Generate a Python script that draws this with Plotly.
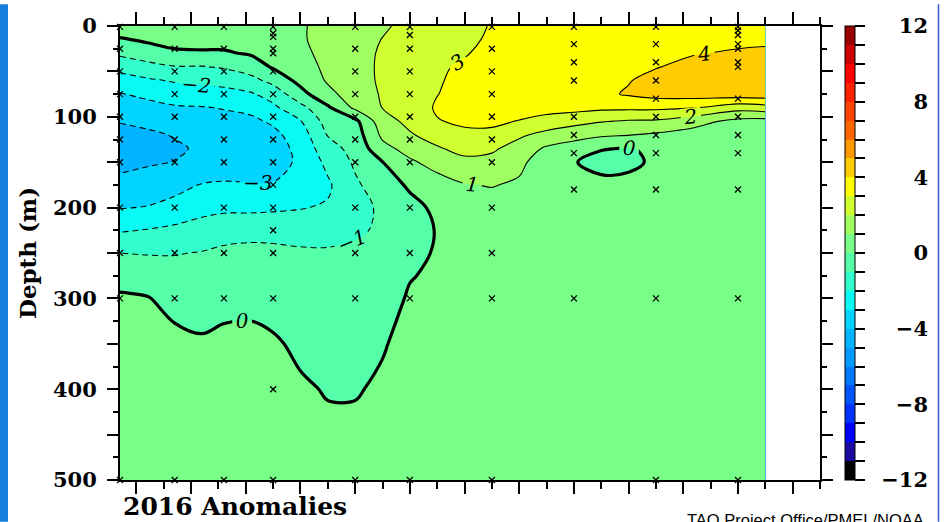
import plotly.graph_objects as go

# ---------------- data ----------------
lon = [137, 142, 147, 152, 156, 161, 165, 170, 175, 180, 185, 190,
       195, 200, 205, 210, 215, 220, 225, 230, 235, 242, 250, 255]
depth = [0, 15, 30, 45, 60, 75, 90, 105, 120, 135, 150, 175, 200,
         225, 250, 275, 300, 350, 400, 450, 500]

# temperature anomaly (deg C) profiles, one list per longitude (top -> bottom)
a137 = [0.6, -0.1, -0.8, -1.7, -2.4, -3.05, -3.5, -3.95, -4.3, -4.45, -4.25, -3.75, -3.05, -2.1, -1.0, -0.4, 0.15, 0.4, 0.4, 0.3, 0.3]
a142 = [0.5, 0.15, -0.5, -1.3, -2.15, -2.8, -3.3, -3.8, -4.15, -4.3, -4.1, -3.6, -2.95, -1.95, -1.05, -0.5, 0.05, 0.35, 0.4, 0.3, 0.3]
a147 = [0.5, 0.3, -0.15, -1.05, -1.9, -2.55, -3.1, -3.55, -3.95, -4.1, -3.98, -3.4, -2.6, -1.8, -1.05, -0.6, -0.3, 0.25, 0.3, 0.3, 0.3]
a152 = [0.5, 0.3, -0.1, -1.05, -1.75, -2.45, -3.05, -3.45, -3.75, -3.9, -3.65, -2.95, -2.3, -1.6, -0.95, -0.6, -0.35, 0.1, 0.3, 0.3, 0.3]
a156 = [0.55, 0.3, -0.1, -0.9, -1.65, -2.35, -2.95, -3.3, -3.6, -3.7, -3.5, -2.9, -2.2, -1.4, -0.8, -0.5, -0.25, 0.2, 0.3, 0.3, 0.3]
a161 = [0.6, 0.4, 0.1, -0.5, -1.3, -2.1, -2.75, -3.2, -3.45, -3.55, -3.45, -2.95, -2.2, -1.35, -0.7, -0.45, -0.2, 0.2, 0.3, 0.3, 0.3]
a165 = [0.7, 0.55, 0.35, 0.1, -0.7, -1.6, -2.2, -2.85, -3.25, -3.4, -3.35, -2.95, -2.15, -1.35, -0.75, -0.5, -0.3, 0.1, 0.25, 0.25, 0.25]
a170 = [0.9, 0.9, 0.8, 0.6, 0.3, -0.35, -1.3, -2.05, -2.5, -2.75, -2.85, -2.6, -2.05, -1.4, -0.85, -0.6, -0.45, -0.15, 0.1, 0.2, 0.25]
a175 = [1.3, 1.3, 1.25, 1.2, 1.1, 0.75, -0.15, -0.6, -0.95, -1.35, -1.75, -2.15, -1.9, -1.45, -0.85, -0.65, -0.5, -0.35, -0.05, 0.15, 0.2]
a180 = [1.65, 1.7, 1.7, 1.65, 1.6, 1.45, 1.2, -0.25, -0.5, -0.7, -0.85, -1.15, -1.3, -1.15, -0.8, -0.65, -0.55, -0.35, -0.05, 0.15, 0.2]
a185 = [1.9, 2.02, 2.1, 2.15, 2.15, 2.1, 2.02, 1.6, 1.2, 0.7, -0.02, -0.5, -0.85, -0.85, -0.7, -0.55, -0.4, -0.05, 0.1, 0.2, 0.2]
a190 = [2.2, 2.35, 2.45, 2.55, 2.6, 2.6, 2.5, 2.25, 1.9, 1.35, 0.85, 0.15, -0.3, -0.4, -0.3, -0.05, 0.1, 0.2, 0.25, 0.25, 0.25]
a195 = [2.5, 2.65, 2.8, 2.9, 2.93, 2.98, 3.1, 2.95, 2.4, 1.9, 1.35, 0.6, 0.2, 0.05, 0.1, 0.15, 0.2, 0.25, 0.25, 0.25, 0.25]
a200 = [2.75, 2.85, 2.95, 3.1, 3.2, 3.3, 3.3, 3.15, 2.8, 2.3, 1.75, 0.95, 0.5, 0.35, 0.3, 0.3, 0.35, 0.3, 0.3, 0.25, 0.25]
a205 = [3.05, 3.1, 3.2, 3.3, 3.4, 3.45, 3.4, 3.2, 2.75, 2.15, 1.7, 1.05, 0.6, 0.45, 0.4, 0.45, 0.6, 0.4, 0.3, 0.25, 0.25]
a210 = [3.2, 3.3, 3.4, 3.5, 3.6, 3.6, 3.45, 2.95, 2.15, 1.6, 1.25, 0.85, 0.6, 0.5, 0.5, 0.6, 0.75, 0.45, 0.3, 0.25, 0.25]
a215 = [3.3, 3.4, 3.5, 3.6, 3.7, 3.65, 3.4, 2.6, 1.7, 0.85, 0.4, 0.3, 0.35, 0.4, 0.45, 0.6, 0.8, 0.45, 0.3, 0.25, 0.25]
a220 = [3.4, 3.45, 3.55, 3.65, 3.75, 3.7, 3.35, 2.3, 1.4, 0.5, 0.05, 0.2, 0.35, 0.4, 0.45, 0.6, 0.85, 0.45, 0.3, 0.25, 0.25]
a225 = [3.45, 3.5, 3.6, 3.75, 3.85, 3.8, 3.2, 2.05, 1.15, 0.05, -0.3, 0.25, 0.3, 0.35, 0.4, 0.5, 0.65, 0.4, 0.3, 0.25, 0.25]
a230 = [3.5, 3.55, 3.65, 3.8, 3.95, 4.1, 3.2, 1.9, 1.02, -0.05, -0.2, 0.25, 0.3, 0.35, 0.35, 0.4, 0.45, 0.35, 0.3, 0.25, 0.25]
a235 = [3.55, 3.65, 3.8, 3.95, 4.3, 4.35, 3.2, 1.85, 0.85, 0.15, 0.15, 0.3, 0.3, 0.3, 0.3, 0.3, 0.35, 0.3, 0.3, 0.25, 0.25]
a242 = [3.6, 3.75, 3.95, 4.3, 4.55, 4.45, 3.05, 1.35, 0.6, 0.3, 0.3, 0.3, 0.3, 0.3, 0.3, 0.3, 0.3, 0.3, 0.3, 0.25, 0.25]
a250 = [3.65, 3.8, 4.1, 4.5, 4.7, 4.55, 2.4, 0.7, 0.4, 0.3, 0.3, 0.3, 0.3, 0.3, 0.3, 0.3, 0.3, 0.3, 0.3, 0.25, 0.25]
a255 = [3.65, 3.85, 4.15, 4.55, 4.75, 4.6, 2.6, 0.6, 0.35, 0.3, 0.3, 0.3, 0.3, 0.3, 0.3, 0.3, 0.3, 0.3, 0.3, 0.25, 0.25]

profiles = [a137, a142, a147, a152, a156, a161, a165, a170, a175, a180, a185, a190,
            a195, a200, a205, a210, a215, a220, a225, a230, a235, a242, a250, a255]

# buoy sensor positions (longitude, depths)
buoy_lon = [137, 147, 156, 165, 180, 190, 205, 220, 235, 250]
buoy_depths = [
    [1, 25, 50, 75, 100, 125, 150, 200, 250, 300, 500],
    [1, 25, 50, 75, 100, 125, 150, 200, 250, 300, 500],
    [1, 25, 50, 75, 100, 125, 150, 200, 250, 300, 500],
    [1, 8, 12, 25, 30, 50, 75, 100, 125, 150, 175, 200, 225, 250, 300, 400, 500],
    [1, 25, 50, 75, 100, 125, 150, 200, 250, 300, 500],
    [1, 10, 25, 50, 75, 100, 125, 150, 200, 250, 300, 500],
    [1, 25, 50, 75, 100, 125, 150, 200, 250, 300, 500],
    [1, 20, 40, 60, 100, 120, 140, 180, 300],
    [1, 20, 40, 60, 80, 100, 120, 140, 180, 300, 500],
    [1, 5, 10, 20, 25, 40, 45, 80, 100, 120, 140, 180, 300, 500],
]

# colour of each 1-degree band, from -12..-11 up to 11..12
band_colors = ["#000000", "#1A0AA0", "#0000FF", "#0033FF", "#0055FF", "#0077FF",
               "#0099FF", "#00B4FF", "#00D4FF", "#08FAF4", "#33FFCC", "#55FFAA",
               "#77FF88", "#A0FF60", "#D0FF30", "#FFFF00", "#FFCC00", "#FF9900",
               "#FF6600", "#FF4400", "#FF2200", "#FF0000", "#CC0000", "#990000"]
cbar_ticks = list(range(-12, 13))
cbar_labels = [-12, -8, -4, 0, 4, 8, 12]
depth_ticks = [0, 50, 100, 150, 200, 250, 300, 350, 400, 450, 500]
depth_text = ["0", "", "100", "", "200", "", "300", "", "400", "", "500"]
lon_ticks = list(range(140, 261, 10))

# ---------------- build ----------------
z = [[profiles[j][i] for j in range(len(lon))] for i in range(len(depth))]

n = len(band_colors)
# contour fill colormap domain spans start-0.5 .. end+0.5 (25 units)
cs_fill = []
for i, c in enumerate(band_colors):
    a = 0.0 if i == 0 else (i + 0.5) / 25.0
    b = 1.0 if i == n - 1 else (i + 1.5) / 25.0
    cs_fill += [[a, c], [b, c]]
cs_bar = []
for i, c in enumerate(band_colors):
    cs_bar += [[i / n, c], [(i + 1) / n, c]]

W, H = 946, 522
L, R, T, B = 120, 18, 22, 42
PW = W - L - R          # paper width in px
PH = H - T - B
def px_x(px):
    return (px - L) / PW
def px_y(py):
    return (H - B - py) / PH

serif = "DejaVu Serif"
labfont = dict(family="DejaVu Serif", size=20, style="italic", color="black")

fig = go.Figure()
fig.add_trace(go.Contour(
    x=lon, y=depth, z=z, colorscale=cs_fill, showscale=False,
    contours=dict(start=-12, end=12, size=1, coloring="fill", showlines=False),
    line=dict(width=0), hoverinfo="skip"))
fig.add_trace(go.Contour(
    x=lon, y=depth, z=z, showscale=False,
    contours=dict(start=-5, end=-1, size=1, coloring="none",
                  showlabels=True, labelfont=labfont, labelformat="d"),
    line=dict(color="black", width=1.1, dash="6px,4px", smoothing=1),
    hoverinfo="skip"))
fig.add_trace(go.Contour(
    x=lon, y=depth, z=z, showscale=False,
    contours=dict(start=0, end=0.5, size=1, coloring="none",
                  showlabels=True, labelfont=labfont),
    line=dict(color="black", width=3.2, smoothing=1),
    hoverinfo="skip"))
fig.add_trace(go.Contour(
    x=lon, y=depth, z=z, showscale=False,
    contours=dict(start=1, end=5, size=1, coloring="none",
                  showlabels=True, labelfont=labfont),
    line=dict(color="black", width=1.1, smoothing=1),
    hoverinfo="skip"))

bx, by = [], []
for lo, ds in zip(buoy_lon, buoy_depths):
    for d in ds:
        bx.append(lo)
        by.append(d)
fig.add_trace(go.Scatter(
    x=bx, y=by, mode="markers", cliponaxis=False, hoverinfo="skip",
    marker=dict(symbol="x-thin", size=6, line=dict(color="black", width=1.3))))

# colour bar carrier (invisible point)
fig.add_trace(go.Scatter(
    x=[300], y=[0], yaxis="y2", mode="markers", hoverinfo="skip",
    marker=dict(color=[0], colorscale=cs_bar, cmin=-12, cmax=12, size=1, opacity=0,
                showscale=True,
                colorbar=dict(x=px_x(845), xanchor="left", xpad=0, ypad=0,
                              y=0.5, yanchor="middle", len=1, thickness=10,
                              outlinecolor="black", outlinewidth=1,
                              ticks="outside", ticklen=10, tickwidth=1.5,
                              tickcolor="black", tickmode="array",
                              tickvals=cbar_ticks, showticklabels=False))))

axis_common = dict(showgrid=False, zeroline=False, showline=True, linecolor="black",
                   linewidth=2, mirror="ticks", ticks="outside", tickcolor="black",
                   tickwidth=2)
fig.update_layout(
    width=W, height=H, margin=dict(l=L, r=R, t=T, b=B),
    paper_bgcolor="white", plot_bgcolor="white", showlegend=False,
    font=dict(family=serif, size=21, color="black"),
    xaxis=dict(axis_common, domain=[0, 700 / PW], range=[137, 265],
               tickmode="array", tickvals=lon_ticks, ticklen=12, showticklabels=False,
               minor=dict(tick0=135, dtick=5, ticks="outside", ticklen=7,
                          tickwidth=2, tickcolor="black")),
    yaxis=dict(axis_common, range=[500, 0], tickmode="array", tickvals=depth_ticks,
               ticktext=depth_text, ticklen=11, ticklabelstandoff=6,
               tickfont=dict(family=serif, size=21, weight="bold"),
               minor=dict(tick0=0, dtick=25, ticks="outside", ticklen=5,
                          tickwidth=2, tickcolor="black"),
               title=dict(text="Depth (m)", standoff=10,
                          font=dict(family=serif, size=23, weight="bold"))),
    yaxis2=dict(overlaying="y", anchor="free", position=1.0, side="left",
                range=[-12, 12], tickmode="array", tickvals=cbar_labels,
                ticks="", showline=False, showgrid=False, zeroline=False,
                ticklabelstandoff=0,
                tickfont=dict(family=serif, size=21, weight="bold")),
    annotations=[
        dict(text="2016 Anomalies", xref="paper", yref="paper",
             x=px_x(121), y=px_y(490), xanchor="left", yanchor="top",
             showarrow=False, font=dict(family=serif, size=25, weight="bold")),
        dict(text="TAO Project Office/PMEL/NOAA", xref="paper", yref="paper",
             x=px_x(926), y=px_y(509), xanchor="right", yanchor="top",
             showarrow=False, font=dict(family="Liberation Sans", size=16.5)),
    ],
    shapes=[
        dict(type="rect", xref="paper", yref="paper", x0=px_x(0), x1=px_x(8),
             y0=px_y(H), y1=px_y(0), fillcolor="#1580DC", line=dict(width=0)),
        dict(type="line", xref="paper", yref="paper", x0=px_x(938.5), x1=px_x(938.5),
             y0=px_y(H), y1=px_y(0), line=dict(color="#3a5ad8", width=1.5)),
    ],
)

fig.write_html("out.html")
